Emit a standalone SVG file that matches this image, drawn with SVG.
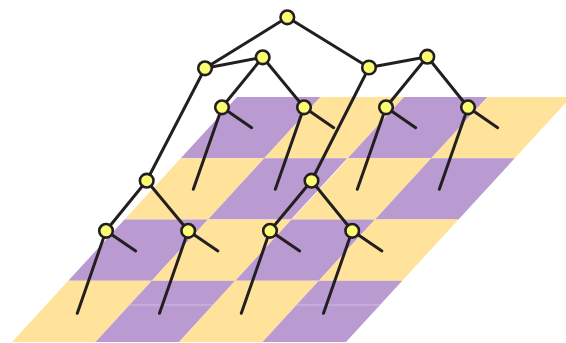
<svg xmlns="http://www.w3.org/2000/svg" width="566" height="343" viewBox="0 0 566 343">
  <style>
    .p { fill: #B99BD2; }
    .y { fill: #FFE39B; }
    .seam { stroke: #FFFFFF; stroke-width: 0.8; fill: none; }
    .seam-p { stroke: #D6C6E6; stroke-width: 0.8; fill: none; }
    .edge { stroke: #231F20; stroke-width: 3; stroke-linecap: round; fill: none; }
    .node { fill: #FCFC72; stroke: #231F20; stroke-width: 2.6; }
  </style>

  <!-- slanted checkerboard plane -->
  <g id="plane">
    <polygon class="p" points="237,97 320.5,97 264.25,158.25 180.75,158.25"/>
    <polygon class="y" points="320.5,97 404,97 347.75,158.25 264.25,158.25"/>
    <polygon class="p" points="404,97 487.5,97 431.25,158.25 347.75,158.25"/>
    <polygon class="y" points="487.5,97 571,97 514.75,158.25 431.25,158.25"/>

    <polygon class="y" points="180.75,158.25 264.25,158.25 208,219.5 124.5,219.5"/>
    <polygon class="p" points="264.25,158.25 347.75,158.25 291.5,219.5 208,219.5"/>
    <polygon class="y" points="347.75,158.25 431.25,158.25 375,219.5 291.5,219.5"/>
    <polygon class="p" points="431.25,158.25 514.75,158.25 458.5,219.5 375,219.5"/>

    <polygon class="p" points="124.5,219.5 208,219.5 151.75,280.75 68.25,280.75"/>
    <polygon class="y" points="208,219.5 291.5,219.5 235.25,280.75 151.75,280.75"/>
    <polygon class="p" points="291.5,219.5 375,219.5 318.75,280.75 235.25,280.75"/>
    <polygon class="y" points="375,219.5 458.5,219.5 402.25,280.75 318.75,280.75"/>

    <polygon class="y" points="68.25,280.75 151.75,280.75 95.5,342 12,342"/>
    <polygon class="p" points="151.75,280.75 235.25,280.75 179,342 95.5,342"/>
    <polygon class="y" points="235.25,280.75 318.75,280.75 262.5,342 179,342"/>
    <polygon class="p" points="318.75,280.75 402.25,280.75 346,342 262.5,342"/>

    <!-- tile seams -->
    <line class="seam" x1="347.75" y1="158.25" x2="291.5" y2="219.5"/>
    <line class="seam-p" x1="129.5" y1="305" x2="213" y2="305"/>
    <line class="seam-p" x1="296.5" y1="305" x2="380" y2="305"/>
  </g>

  <!-- tree connectors -->
  <g id="connectors">
    <line class="edge" x1="287.3" y1="17.3" x2="205" y2="68.3"/>
    <line class="edge" x1="287.3" y1="17.3" x2="369" y2="67.5"/>
    <line class="edge" x1="205" y1="68.3" x2="262.7" y2="57.3"/>
    <line class="edge" x1="369" y1="67.5" x2="427.3" y2="56.7"/>
    <line class="edge" x1="262.7" y1="57.3" x2="222" y2="107.3"/>
    <line class="edge" x1="262.7" y1="57.3" x2="304" y2="107.3"/>
    <line class="edge" x1="427.3" y1="56.7" x2="386" y2="107.3"/>
    <line class="edge" x1="427.3" y1="56.7" x2="468" y2="107.3"/>
    <line class="edge" x1="205" y1="68.3" x2="146.7" y2="180.7"/>
    <line class="edge" x1="369" y1="67.5" x2="311.5" y2="180.7"/>
    <line class="edge" x1="146.7" y1="180.7" x2="106" y2="230.8"/>
    <line class="edge" x1="146.7" y1="180.7" x2="188.2" y2="230.8"/>
    <line class="edge" x1="311.5" y1="180.7" x2="270" y2="230.8"/>
    <line class="edge" x1="311.5" y1="180.7" x2="352.2" y2="230.8"/>

    <!-- upper leaves: short stub and long stem -->
    <line class="edge" x1="222" y1="107.3" x2="251.7" y2="127.7"/>
    <line class="edge" x1="222" y1="107.3" x2="193.3" y2="189.3"/>
    <line class="edge" x1="304" y1="107.3" x2="333.7" y2="127.7"/>
    <line class="edge" x1="304" y1="107.3" x2="275.3" y2="189.3"/>
    <line class="edge" x1="386" y1="107.3" x2="415.7" y2="127.7"/>
    <line class="edge" x1="386" y1="107.3" x2="357.3" y2="189.3"/>
    <line class="edge" x1="468" y1="107.3" x2="497.7" y2="127.7"/>
    <line class="edge" x1="468" y1="107.3" x2="439.3" y2="189.3"/>

    <!-- lower leaves -->
    <line class="edge" x1="106" y1="230.8" x2="135.7" y2="251"/>
    <line class="edge" x1="106" y1="230.8" x2="77.3" y2="313.3"/>
    <line class="edge" x1="188.2" y1="230.8" x2="217.9" y2="251"/>
    <line class="edge" x1="188.2" y1="230.8" x2="159.5" y2="313.3"/>
    <line class="edge" x1="270" y1="230.8" x2="299.7" y2="251"/>
    <line class="edge" x1="270" y1="230.8" x2="241.3" y2="313.3"/>
    <line class="edge" x1="352.2" y1="230.8" x2="381.9" y2="251"/>
    <line class="edge" x1="352.2" y1="230.8" x2="323.5" y2="313.3"/>
  </g>

  <!-- tree nodes -->
  <g id="root"><circle class="node" cx="287.3" cy="17.3" r="6.8"/></g>
  <g id="n-left"><circle class="node" cx="205" cy="68.3" r="6.8"/></g>
  <g id="n-right"><circle class="node" cx="369" cy="67.5" r="6.8"/></g>
  <g id="n-left-b"><circle class="node" cx="262.7" cy="57.3" r="6.8"/></g>
  <g id="n-right-b"><circle class="node" cx="427.3" cy="56.7" r="6.8"/></g>
  <g id="leaf-1"><circle class="node" cx="222" cy="107.3" r="6.8"/></g>
  <g id="leaf-2"><circle class="node" cx="304" cy="107.3" r="6.8"/></g>
  <g id="leaf-3"><circle class="node" cx="386" cy="107.3" r="6.8"/></g>
  <g id="leaf-4"><circle class="node" cx="468" cy="107.3" r="6.8"/></g>
  <g id="n-mid-left"><circle class="node" cx="146.7" cy="180.7" r="6.8"/></g>
  <g id="n-mid-right"><circle class="node" cx="311.5" cy="180.7" r="6.8"/></g>
  <g id="leaf-5"><circle class="node" cx="106" cy="230.8" r="6.8"/></g>
  <g id="leaf-6"><circle class="node" cx="188.2" cy="230.8" r="6.8"/></g>
  <g id="leaf-7"><circle class="node" cx="270" cy="230.8" r="6.8"/></g>
  <g id="leaf-8"><circle class="node" cx="352.2" cy="230.8" r="6.8"/></g>
</svg>
